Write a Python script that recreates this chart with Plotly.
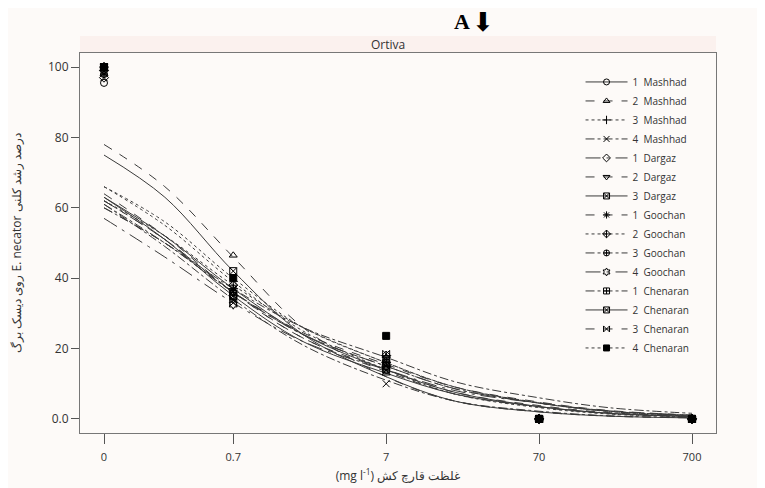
import plotly.graph_objects as go

# ---- data ----
dose_labels = ["0", "0.7", "7", "70", "700"]
dose_pos = [0.1, 0.7, 7, 70, 700]          # "0" is drawn at 0.1 on the log axis
curve_x = [0.1, 0.25, 0.7, 2, 7, 20, 70, 200, 700]

names = ["1  Mashhad", "2  Mashhad", "3  Mashhad", "4  Mashhad",
         "1  Dargaz", "2  Dargaz", "3  Dargaz",
         "1  Goochan", "2  Goochan", "3  Goochan", "4  Goochan",
         "1  Chenaran", "2  Chenaran", "3  Chenaran", "4  Chenaran"]

obs_1_mashhad = [95.5, 36, 14, 0, 0]
obs_2_mashhad = [98, 46.5, 13, 0, 0]
obs_3_mashhad = [100, 37, 16, 0, 0]
obs_4_mashhad = [97, 34, 10, 0, 0]
obs_1_dargaz = [97, 35, 15, 0, 0]
obs_2_dargaz = [99, 36, 17, 0, 0]
obs_3_dargaz = [100, 35, 14, 0, 0]
obs_1_goochan = [100, 37, 15, 0, 0]
obs_2_goochan = [99, 38, 18, 0, 0]
obs_3_goochan = [98, 36, 16, 0, 0]
obs_4_goochan = [100, 32.5, 17, 0, 0]
obs_1_chenaran = [100, 35, 16, 0, 0]
obs_2_chenaran = [100, 42, 15, 0, 0]
obs_3_chenaran = [100, 33, 18.5, 0, 0]
obs_4_chenaran = [100, 40, 23.6, 0, 0]

fit_1_mashhad = [63, 52, 37, 24, 14, 7.5, 3.5, 1.6, 0.7]
fit_2_mashhad = [78, 66, 46, 26, 12, 5, 2, 0.8, 0.3]
fit_3_mashhad = [66, 55, 39, 25, 14, 7, 3.2, 1.4, 0.6]
fit_4_mashhad = [61, 49, 34, 21, 11, 5, 2.2, 0.9, 0.4]
fit_1_dargaz = [62, 51, 36, 24, 15, 8.5, 4.5, 2.2, 1.0]
fit_2_dargaz = [60, 50, 36, 24.5, 15.5, 9, 4.8, 2.4, 1.1]
fit_3_dargaz = [63, 51, 35, 22, 13, 7, 3.5, 1.6, 0.7]
fit_1_goochan = [64, 52, 36, 23, 14, 7.5, 3.8, 1.8, 0.8]
fit_2_goochan = [62, 52, 38, 26, 16, 9, 4.6, 2.2, 1.0]
fit_3_goochan = [60, 50, 37, 26, 17.5, 10.5, 6, 3.2, 1.6]
fit_4_goochan = [57, 46, 33, 22, 14, 8, 4.5, 2.3, 1.1]
fit_1_chenaran = [61, 50, 36, 24, 15, 8.5, 4.5, 2.2, 1.0]
fit_2_chenaran = [75, 63, 42, 24, 12, 5, 2, 0.8, 0.3]
fit_3_chenaran = [62, 51, 36, 23, 13.5, 7, 3.4, 1.5, 0.6]
fit_4_chenaran = [66, 56, 40, 26, 16, 9, 4.5, 2.1, 0.9]

y_ticks = [0, 20, 40, 60, 80, 100]
y_tick_labels = ["0.0", "20", "40", "60", "80", "100"]

obs = [obs_1_mashhad, obs_2_mashhad, obs_3_mashhad, obs_4_mashhad,
       obs_1_dargaz, obs_2_dargaz, obs_3_dargaz,
       obs_1_goochan, obs_2_goochan, obs_3_goochan, obs_4_goochan,
       obs_1_chenaran, obs_2_chenaran, obs_3_chenaran, obs_4_chenaran]
fits = [fit_1_mashhad, fit_2_mashhad, fit_3_mashhad, fit_4_mashhad,
        fit_1_dargaz, fit_2_dargaz, fit_3_dargaz,
        fit_1_goochan, fit_2_goochan, fit_3_goochan, fit_4_goochan,
        fit_1_chenaran, fit_2_chenaran, fit_3_chenaran, fit_4_chenaran]

# ---- styles ----
dashes = ["solid", "dash", "dot", "dashdot", "longdashdot", "dash", "solid",
          "dash", "dot", "dashdot", "longdashdot", "dashdot", "solid", "dash", "dot"]
symbols = ["circle-open", "triangle-up-open", "cross-thin-open", "x-thin-open",
           "diamond-open", "triangle-down-open", "square-x-open",
           "asterisk-open", "diamond-cross-open", "circle-cross-open", "hexagram-open",
           "square-cross-open", "square-x-open", "bowtie-open", "square"]

bg = "#fdfaf8"
fig = go.Figure()
for i in range(len(names)):
    fig.add_trace(go.Scatter(x=curve_x, y=fits[i], mode="lines", showlegend=False,
                             line=dict(color="#3a3a3a", width=1, dash=dashes[i], shape="spline"),
                             hoverinfo="skip"))
for i in range(len(names)):
    fig.add_trace(go.Scatter(x=dose_pos, y=obs[i], mode="markers", showlegend=False,
                             marker=dict(symbol=symbols[i], size=7, color="black",
                                         line=dict(color="black", width=1))))
for i in range(len(names)):
    fig.add_trace(go.Scatter(x=[None], y=[None], mode="lines+markers", name=names[i],
                             line=dict(color="#3a3a3a", width=1, dash=dashes[i]),
                             marker=dict(symbol=symbols[i], size=6, color="black",
                                         line=dict(color="black", width=1))))

fig.update_layout(
    width=757, height=480,
    margin=dict(l=72, r=49, t=45, b=55),
    paper_bgcolor=bg, plot_bgcolor=bg,
    font=dict(family="Open Sans", size=11, color="#333"),
    showlegend=True,
    legend=dict(x=0.787, y=0.962, xanchor="left", yanchor="top", bgcolor="rgba(0,0,0,0)",
                font=dict(size=10, family="Open Sans", color="#333"), tracegroupgap=0,
                itemwidth=42),
    xaxis=dict(type="log", range=[-1.157, 3.002], tickvals=dose_pos, ticktext=dose_labels,
               automargin=False,
               showgrid=False, zeroline=False, ticks="outside", ticklen=10, tickcolor="#555",
               ticklabelstandoff=4,
               showline=True, linecolor="#777", mirror=True,
               title=dict(text="(mg l<sup>-1</sup>) غلظت قارچ کش", font=dict(size=12), standoff=8)),
    yaxis=dict(range=[-4, 104], tickvals=y_ticks, ticktext=y_tick_labels,
               automargin=False,
               showgrid=False, zeroline=False, ticks="outside", ticklen=8, tickcolor="#555",
               tickfont=dict(size=12),
               showline=True, linecolor="#777", mirror=True,
               title=dict(text="روی دیسک برگ E. necator درصد رشد کلنی", font=dict(size=12), standoff=24)),
)

# title strip
fig.add_shape(type="rect", xref="paper", yref="paper", x0=0, x1=1, y0=1.0, y1=1.045,
              fillcolor="#fbf1ee", line=dict(width=0), layer="below")
fig.add_annotation(text="Ortiva", xref="paper", yref="paper", x=0.485, y=1.022,
                   xanchor="center", yanchor="middle",
                   showarrow=False, font=dict(size=12, color="#333", family="Open Sans"))
fig.add_annotation(text="<b>A</b>", xref="paper", yref="paper", x=0.6006, y=1.082,
                   xanchor="center", yanchor="middle", showarrow=False,
                   font=dict(size=22, color="black", family="Liberation Serif"))
fig.add_annotation(text="⬇", xref="paper", yref="paper", x=0.634, y=1.082,
                   xanchor="center", yanchor="middle", showarrow=False,
                   font=dict(size=26, color="black", family="DejaVu Sans"))

fig.write_html("out.html")
